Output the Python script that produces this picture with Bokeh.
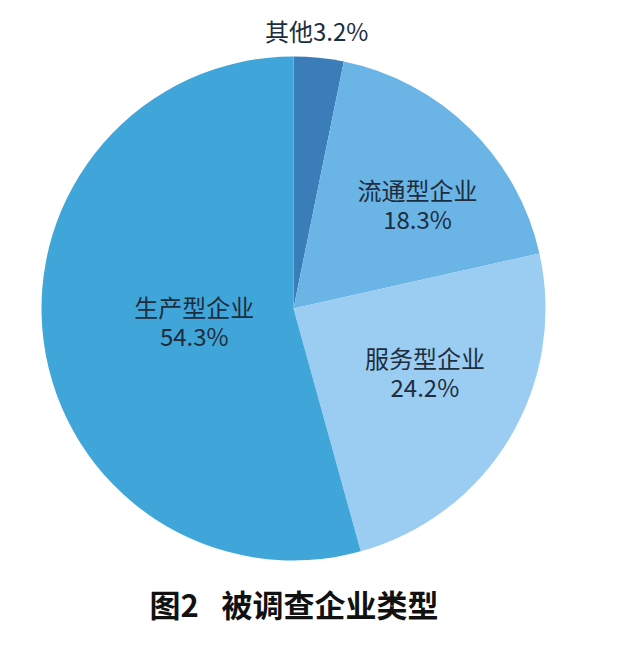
import math
from bokeh.plotting import figure
from bokeh.models import ColumnDataSource
from bokeh.core.properties import value
from bokeh.embed import file_html
from bokeh.resources import INLINE

# ---- data ----
categories = ["其他", "流通型企业", "服务型企业", "生产型企业"]
shares = [3.2, 18.3, 24.2, 54.3]
colors = ["#3a7db8", "#6ab4e6", "#9acdf1", "#40a6d9"]
title_fig = "图2"
title_text = "被调查企业类型"

# ---- layout / style ----
W, H = 624, 632
CX, CY, R = 293, H - 308, 252
FONT = "Noto Sans CJK SC"
TEXT_COLOR = "#1e2d3d"
label_r = [1.107, 0.643, 0.58, 0.397]      # radial distance as fraction of R
label_da = [-1.0, 5.5, -5.0, 0.5]          # angle nudge (degrees, clockwise)

total = sum(shares)
starts, ends, mids = [], [], []
cum = 0.0
for s in shares:
    a0 = math.pi / 2 - 2 * math.pi * cum / total
    cum += s
    a1 = math.pi / 2 - 2 * math.pi * cum / total
    starts.append(a0)
    ends.append(a1)
    mids.append((a0 + a1) / 2)

src = ColumnDataSource(dict(cat=categories, share=shares, color=colors,
                            start=starts, end=ends))

p = figure(width=W, height=H, x_range=(0, W), y_range=(0, H),
           x_axis_type=None, y_axis_type=None,
           output_backend="svg", toolbar_location=None, min_border=0)
p.outline_line_color = None
p.grid.visible = False
p.background_fill_color = "white"
p.border_fill_color = "white"

p.wedge(x=CX, y=CY, radius=R, start_angle="start", end_angle="end",
        direction="clock", fill_color="color", line_color=None, source=src)

# labels
lx, ly = [], []
for m, rf, da in zip(mids, label_r, label_da):
    a = m - math.radians(da)
    lx.append(CX + rf * R * math.cos(a))
    ly.append(CY + rf * R * math.sin(a))

# single-line label for the small slice
p.text(x=[lx[0]], y=[ly[0]], text=[f"{categories[0]}{shares[0]}%"],
       text_font=value(FONT), text_font_size="24px", text_color=TEXT_COLOR,
       text_align="center", text_baseline="middle")

# two-line labels for the others
p.text(x=lx[1:], y=ly[1:], text=categories[1:],
       text_font=value(FONT), text_font_size="24px", text_color=TEXT_COLOR,
       text_align="center", text_baseline="middle", y_offset=-15)
p.text(x=lx[1:], y=ly[1:], text=[f"{s}%" for s in shares[1:]],
       text_font=value(FONT), text_font_size="24px", text_color=TEXT_COLOR,
       text_align="center", text_baseline="middle", y_offset=14)

# figure caption
p.text(x=[149], y=[H - 603], text=[title_fig],
       text_font=value(FONT), text_font_size="31px", text_font_style="bold",
       text_color="#111111", text_align="left", text_baseline="middle")
p.text(x=[221], y=[H - 603], text=[title_text],
       text_font=value(FONT), text_font_size="31px", text_font_style="bold",
       text_color="#111111", text_align="left", text_baseline="middle")

open("out.html", "w").write(file_html(p, INLINE))
